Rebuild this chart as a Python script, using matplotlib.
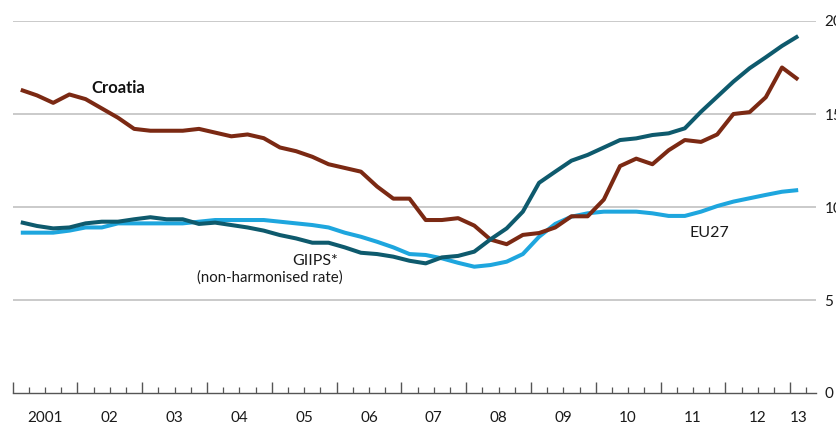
import numpy as np
import matplotlib
matplotlib.use("Agg")
import matplotlib.pyplot as plt
from matplotlib.ticker import FixedLocator

# Quarterly data, 2001Q1 .. 2013Q1
croatia = [16.3, 16.0, 15.6, 16.05,
           15.8, 15.3, 14.8, 14.2,
           14.1, 14.1, 14.1, 14.2,
           14.0, 13.8, 13.9, 13.7,
           13.2, 13.0, 12.7, 12.3,
           12.1, 11.9, 11.1, 10.45,
           10.45, 9.3, 9.3, 9.4,
           9.0, 8.25, 8.0, 8.5,
           8.6, 8.9, 9.5, 9.5,
           10.4, 12.2, 12.6, 12.3,
           13.05, 13.6, 13.5, 13.9,
           15.0, 15.1, 15.9, 17.5,
           16.85]
giips = [9.18, 8.98, 8.85, 8.9,
         9.12, 9.21, 9.21, 9.34,
         9.45, 9.34, 9.34, 9.09,
         9.16, 9.03, 8.9, 8.73,
         8.49, 8.31, 8.08, 8.08,
         7.83, 7.54, 7.47, 7.33,
         7.11, 6.97, 7.29, 7.37,
         7.6, 8.26, 8.85, 9.75,
         11.3, 11.9, 12.49, 12.8,
         13.2, 13.6, 13.69, 13.87,
         13.96, 14.23, 15.12, 15.93,
         16.74, 17.46, 18.05, 18.66,
         19.19]
eu27 = [8.62, 8.62, 8.62, 8.73,
        8.9, 8.9, 9.12, 9.12,
        9.12, 9.12, 9.12, 9.21,
        9.3, 9.3, 9.3, 9.3,
        9.21, 9.12, 9.03, 8.9,
        8.62, 8.4, 8.13, 7.83,
        7.47, 7.42, 7.24, 7.0,
        6.79, 6.88, 7.06, 7.47,
        8.4, 9.09, 9.48, 9.66,
        9.75, 9.75, 9.75, 9.66,
        9.52, 9.52, 9.75, 10.05,
        10.29, 10.47, 10.65, 10.82,
        10.91]
year_labels = ["2001", "02", "03", "04", "05", "06", "07", "08", "09",
               "10", "11", "12", "13"]
year_label_pos = [2001.5, 2002.5, 2003.5, 2004.5, 2005.5, 2006.5, 2007.5,
                  2008.5, 2009.5, 2010.5, 2011.5, 2012.5, 2013.13]
y_ticks = [0, 5, 10, 15, 20]

FONT = ["Lato", "DejaVu Sans"]
plt.rcParams["font.family"] = FONT

x = 2001 + (np.arange(len(croatia)) + 0.5) / 4.0

fig = plt.figure(figsize=(8.36, 4.24), dpi=100)
ax = fig.add_axes([12.7 / 836, 1 - 393 / 424, (816 - 12.7) / 836, (393 - 21) / 424])

C_CRO = "#7b2913"
C_GIIPS = "#0e5a6d"
C_EU = "#1ea6de"

ax.plot(x, eu27, color=C_EU, lw=2.9, solid_capstyle="butt", zorder=3)
ax.plot(x, croatia, color=C_CRO, lw=2.9, solid_capstyle="butt", zorder=4)
ax.plot(x, giips, color=C_GIIPS, lw=2.9, solid_capstyle="butt", zorder=5)

ax.set_xlim(2001.0, 2013.4)
ax.set_ylim(0, 20)

for s in ["top", "left", "right"]:
    ax.spines[s].set_visible(False)
ax.spines["bottom"].set_color("#555555")
ax.spines["bottom"].set_linewidth(1.0)

# x ticks: years (long) and quarters (short), labels via secondary axis
years = np.arange(2001, 2014)
ax.xaxis.set_major_locator(FixedLocator(years))
quarters = [y + q / 4 for y in range(2001, 2014) for q in (1, 2, 3) if y + q / 4 <= 2013.4]
ax.xaxis.set_minor_locator(FixedLocator(quarters))
ax.tick_params(axis="x", which="major", direction="in", length=8, width=1.0,
               color="#555555", labelbottom=False)
ax.tick_params(axis="x", which="minor", direction="in", length=4.5, width=0.9,
               color="#555555")

sec = ax.secondary_xaxis("bottom")
sec.set_xticks(year_label_pos, year_labels)
sec.tick_params(length=0, pad=13, labelsize=11, labelcolor="#1a1a1a")
sec.spines["bottom"].set_visible(False)

# y axis on right
ax.yaxis.tick_right()
ax.set_yticks(y_ticks)
ax.set_yticklabels([str(v) for v in y_ticks])
ax.tick_params(axis="y", length=0, pad=6, labelsize=11, labelcolor="#1a1a1a")
for v in y_ticks[1:]:
    ax.axhline(v, color="#c6c6c6", lw=1.3, zorder=1)

ax.text(2002.21, 16.4, "Croatia", fontsize=12, fontweight="bold",
        color="#111111", ha="left", va="center")
ax.text(2006.02, 7.1, "GIIPS*", fontsize=11.5, color="#1a1a1a",
        ha="right", va="center")
ax.text(2006.10, 6.22, "(non-harmonised rate)", fontsize=10.8, color="#1a1a1a",
        ha="right", va="center")
ax.text(2011.45, 8.6, "EU27", fontsize=11.5, color="#1a1a1a",
        ha="left", va="center")

fig.savefig("out.png", dpi=100)
